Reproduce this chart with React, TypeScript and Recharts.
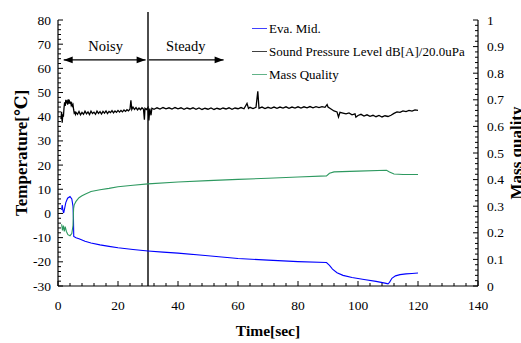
import React from 'react';
import { ComposedChart, Line, XAxis, YAxis, ReferenceLine, ReferenceDot, Legend } from 'recharts';

const FONT = '"Liberation Serif", "Times New Roman", "DejaVu Serif", serif';

// ---- Series names (legend order)
const seriesNames = ['Eva. Mid.', 'Sound Pressure Level dB[A]/20.0uPa', 'Mass Quality'];

// ---- Eva. Mid. temperature (left axis, °C)
const evaTime = [1.2, 1.4, 1.7, 1.9, 2.2, 2.6, 3.2, 4.0, 4.6, 5.0, 5.15, 5.25, 6.0, 7, 9, 11, 14, 17, 20, 25, 30, 35, 40, 50, 60, 70, 80, 89.5, 90.5, 91.5, 93, 95, 98, 102, 106, 109, 110, 110.5, 111.3, 112.5, 114, 116, 118, 120];
const evaTemp = [1.5, 3.5, 1.0, 0.2, 2.0, 4.5, 6.3, 7.0, 6.0, 3.0, -2.0, -9.5, -10.0, -10.5, -11.5, -12.2, -13.0, -13.6, -14.2, -14.9, -15.5, -16.0, -16.4, -17.5, -18.6, -19.3, -19.9, -20.3, -21.5, -23.0, -24.5, -25.6, -26.5, -27.3, -28.1, -28.8, -29.1, -28.5, -26.8, -25.8, -25.3, -25.0, -24.8, -24.6];

// ---- Sound Pressure Level (left axis, dB)
const splTime = [
  1.0, 1.2, 1.4, 1.6, 1.8, 2.0, 2.2, 2.4, 2.6, 2.8, 3.0, 3.2, 3.4, 3.6, 3.8, 4.0, 4.2, 4.4, 4.6, 4.8, 5.0, 5.2, 5.4, 5.6, 5.8, 6.0,
  6.5, 7, 7.5, 8, 8.5, 9, 9.5, 10, 10.5, 11, 11.5, 12, 12.5, 13, 13.5, 14, 14.5, 15, 15.5, 16, 16.5, 17, 17.5, 18, 18.5, 19, 19.5, 20,
  20.5, 21, 21.5, 22, 22.5, 23, 23.5, 24, 24.3, 24.6, 25, 25.5, 26, 26.5, 27, 27.5, 28, 28.5, 28.8, 29, 29.5, 30, 30.3, 30.6, 31, 31.3,
  32, 33, 34, 35, 36, 37, 38, 39, 40, 41, 42, 43, 44, 45, 46, 47, 48, 49, 50, 51, 52, 53, 54, 55, 56, 57, 58, 59, 60, 61, 62, 63, 63.5,
  64, 65, 66, 66.6, 67, 68, 69, 70, 71, 72, 73, 74, 75, 76, 77, 78, 79, 80, 81, 82, 83, 84, 85, 86, 87, 88, 89, 89.7, 90, 91, 92, 93,
  93.5, 94, 95, 96, 97, 98, 99, 99.3, 100, 101, 102, 103, 104, 105, 106, 107, 108, 109, 110, 111, 112, 113, 114, 115, 116, 117, 118, 119, 120
];
const splLevel = [
  39.0, 42.0, 37.5, 41.0, 40.0, 43.5, 46.0, 44.5, 47.0, 45.5, 46.8, 45.0, 47.2, 46.0, 46.5, 45.3, 46.2, 44.8, 45.5, 44.5, 45.0, 43.0, 41.5, 41.8, 41.0, 41.8,
  41.0, 42.2, 40.8, 41.8, 41.0, 42.3, 41.2, 42.0, 40.9, 42.3, 41.3, 41.9, 41.0, 42.3, 41.4, 42.1, 41.1, 42.2, 41.5, 42.4, 41.3, 42.2, 41.7, 42.5, 41.6, 42.4, 41.8, 42.6,
  41.9, 42.6, 42.0, 42.8, 42.2, 42.9, 42.4, 43.2, 46.8, 43.0, 44.0, 43.0, 43.8, 42.8, 43.6, 42.9, 43.7, 43.1, 38.8, 43.5, 43.0, 43.8, 38.5, 43.4, 40.6, 43.5,
  43.1, 43.7, 43.2, 43.8, 43.3, 43.7, 43.2, 43.8, 43.3, 43.7, 43.1, 43.6, 43.2, 43.7, 43.1, 43.6, 43.0, 43.5, 43.1, 43.6, 43.0, 43.5, 43.1, 43.6, 43.2, 43.7, 43.1, 43.6, 43.3, 43.8, 43.3, 45.5, 43.4,
  43.9, 43.4, 43.9, 50.5, 43.5, 44.0, 43.4, 43.9, 43.5, 44.0, 43.5, 44.0, 43.6, 44.1, 43.5, 44.0, 43.6, 44.1, 43.6, 44.1, 43.7, 44.2, 43.7, 44.2, 43.8, 44.2, 43.9, 45.0, 44.0, 43.2, 42.4, 42.0,
  39.9, 41.8, 41.5, 41.2, 41.6, 40.8, 41.2, 39.8, 40.5, 41.0, 40.3, 40.8, 40.2, 40.6, 40.0, 40.5, 39.9, 40.4, 40.1, 40.6, 41.4, 42.0, 41.8, 42.4, 42.1, 42.6, 42.3, 42.8, 42.6
];

// ---- Mass Quality (right axis, 0..1)
const mqTime = [1.2, 1.5, 1.8, 2.1, 2.4, 2.8, 3.3, 4.0, 4.6, 5.0, 5.2, 5.4, 6, 7, 8, 9, 11, 14, 17, 20, 25, 30, 40, 50, 60, 70, 80, 89.5, 90.5, 92, 100, 109.5, 110.5, 112, 115, 120];
const mqValue = [0.232, 0.209, 0.227, 0.205, 0.223, 0.205, 0.193, 0.189, 0.197, 0.227, 0.291, 0.305, 0.318, 0.332, 0.339, 0.345, 0.355, 0.362, 0.367, 0.373, 0.379, 0.384, 0.391, 0.396, 0.401, 0.405, 0.410, 0.414, 0.424, 0.429, 0.432, 0.435, 0.429, 0.421, 0.419, 0.419];

// ---- Axis ticks
const timeMajorTicks = [0, 20, 40, 60, 80, 100, 120, 140];
const tempMajorTicks = [-30, -20, -10, 0, 10, 20, 30, 40, 50, 60, 70, 80];
const qualityMajorTicks = [0, 0.1, 0.2, 0.3, 0.4, 0.5, 0.6, 0.7, 0.8, 0.9, 1];
const qualityTickLabels = ['0', '0.1', '0.2', '0.3', '0.4', '0.5', '0.6', '0.7', '0.8', '0.9', '1'];
const SUB = 5;

// ---- Annotations
const phaseBoundary = 30;
const arrowLevel = 63.5;
const noisyRange = [1.9, 29.2];
const steadyRange = [30.3, 55.2];
const labelLevel = 67.2;
const noisyLabelAt = 15.9;
const steadyLabelAt = 42.6;

const withMinor = (majors: number[], parts: number) => {
  const out: number[] = [];
  for (let i = 0; i < majors.length; i++) {
    out.push(majors[i]);
    if (i < majors.length - 1) {
      for (let k = 1; k < parts; k++) out.push(majors[i] + ((majors[i + 1] - majors[i]) * k) / parts);
    }
  }
  return out;
};

const evaData = evaTime.map((t, i) => ({ t, v: evaTemp[i] }));
const splData = splTime.map((t, i) => ({ t, v: splLevel[i] }));
const mqData = mqTime.map((t, i) => ({ t, v: mqValue[i] }));

const TICK_FONT = 13.5;

const XTick = (props: any) => {
  const { x, y, index } = props;
  const major = index % SUB === 0;
  return (
    <g>
      <line x1={x} x2={x} y1={y} y2={y - (major ? 5 : 3)} stroke="#000" strokeWidth={1} />
      {major && (
        <text x={x} y={y + 24} textAnchor="middle" fontFamily={FONT} fontSize={TICK_FONT} fill="#000">
          {timeMajorTicks[index / SUB]}
        </text>
      )}
    </g>
  );
};

const LeftTick = (props: any) => {
  const { x, y, index } = props;
  const major = index % SUB === 0;
  return (
    <g>
      <line x1={x} x2={x + (major ? 5 : 3)} y1={y} y2={y} stroke="#000" strokeWidth={1} />
      {major && (
        <text x={x - 7} y={y} dy="0.34em" textAnchor="end" fontFamily={FONT} fontSize={TICK_FONT} fill="#000">
          {tempMajorTicks[index / SUB]}
        </text>
      )}
    </g>
  );
};

const RightTick = (props: any) => {
  const { x, y, index } = props;
  const major = index % SUB === 0;
  return (
    <g>
      <line x1={x} x2={x - (major ? 5 : 3)} y1={y} y2={y} stroke="#000" strokeWidth={1} />
      {major && (
        <text x={x + 9} y={y} dy="0.34em" textAnchor="start" fontFamily={FONT} fontSize={TICK_FONT} fill="#000">
          {qualityTickLabels[index / SUB]}
        </text>
      )}
    </g>
  );
};

const arrowShape = (leftHead: boolean, rightHead: boolean) => (p: any) => {
  const xa = Math.min(p.x1, p.x2);
  const xb = Math.max(p.x1, p.x2);
  const y = p.y1;
  const L = 9;
  const W = 3.3;
  return (
    <g>
      <line x1={xa} x2={xb} y1={y} y2={y} stroke="#000" strokeWidth={1.3} />
      {leftHead && <polygon points={`${xa},${y} ${xa + L},${y - W} ${xa + L},${y + W}`} fill="#000" />}
      {rightHead && <polygon points={`${xb},${y} ${xb - L},${y - W} ${xb - L},${y + W}`} fill="#000" />}
    </g>
  );
};

const textShape = (label: string) => (p: any) => (
  <text x={p.cx} y={p.cy} textAnchor="middle" fontFamily={FONT} fontSize={14.5} fill="#000">
    {label}
  </text>
);

const LegendContent = (props: any) => {
  const items = [...(props.payload || [])].sort(
    (a: any, b: any) => seriesNames.indexOf(a.value) - seriesNames.indexOf(b.value)
  );
  return (
    <div style={{ fontFamily: FONT, fontSize: 13, color: '#000' }}>
      {items.map((item: any, i: number) => (
        <div key={i} style={{ display: 'flex', alignItems: 'center', height: 23, whiteSpace: 'nowrap' }}>
          <svg width={15} height={3} style={{ display: 'block' }}>
            <line x1={0} x2={15} y1={1.5} y2={1.5} stroke={item.color} strokeWidth={1} strokeOpacity={0.75} />
          </svg>
          <span style={{ marginLeft: 2 }}>{item.value}</span>
        </div>
      ))}
    </div>
  );
};

export default function App() {
  return (
    <div style={{ position: 'absolute', left: 0, top: 0, width: 521, height: 343, background: '#fff' }}>
      <ComposedChart width={521} height={343} margin={{ top: 20, right: 0, bottom: 0, left: 0 }}>
        <XAxis
          dataKey="t"
          type="number"
          domain={[0, 140]}
          height={57}
          ticks={withMinor(timeMajorTicks, SUB)}
          interval={0}
          tickSize={0}
          tickMargin={0}
          tickLine={false}
          tick={<XTick />}
          axisLine={{ stroke: '#000', strokeWidth: 1.2 }}
          allowDataOverflow
          label={{
            content: (p: any) => (
              <text
                x={p.viewBox.x + p.viewBox.width / 2}
                y={p.viewBox.y + 50}
                textAnchor="middle"
                fontFamily={FONT}
                fontSize={15.5}
                fontWeight="bold"
                fill="#000"
              >
                Time[sec]
              </text>
            ),
          }}
        />
        <YAxis
          yAxisId="left"
          orientation="left"
          type="number"
          width={58}
          domain={[-30, 80]}
          ticks={withMinor(tempMajorTicks, SUB)}
          interval={0}
          tickSize={0}
          tickMargin={0}
          tickLine={false}
          tick={<LeftTick />}
          axisLine={{ stroke: '#000', strokeWidth: 1.2 }}
          allowDataOverflow
          label={{
            content: (p: any) => {
              const cy = p.viewBox.y + p.viewBox.height / 2;
              return (
                <text
                  x={27}
                  y={cy}
                  transform={`rotate(-90 27 ${cy})`}
                  textAnchor="middle"
                  fontFamily={FONT}
                  fontSize={17}
                  fontWeight="bold"
                  fill="#000"
                >
                  Temperature[℃]
                </text>
              );
            },
          }}
        />
        <YAxis
          yAxisId="right"
          orientation="right"
          type="number"
          width={43}
          domain={[0, 1]}
          ticks={withMinor(qualityMajorTicks, SUB)}
          interval={0}
          tickSize={0}
          tickMargin={0}
          tickLine={false}
          tick={<RightTick />}
          axisLine={{ stroke: '#000', strokeWidth: 1.2 }}
          allowDataOverflow
          label={{
            content: (p: any) => {
              const cy = p.viewBox.y + p.viewBox.height / 2;
              const lx = p.viewBox.x + 44;
              return (
                <text
                  x={lx}
                  y={cy}
                  transform={`rotate(-90 ${lx} ${cy})`}
                  textAnchor="middle"
                  fontFamily={FONT}
                  fontSize={17}
                  fontWeight="bold"
                  fill="#000"
                >
                  Mass quality
                </text>
              );
            },
          }}
        />
        <Legend
          layout="vertical"
          align="center"
          verticalAlign="middle"
          content={<LegendContent />}
          wrapperStyle={{ position: 'absolute', left: 252, top: 17, width: 'auto' }}
        />
        <ReferenceLine
          yAxisId="left"
          x={phaseBoundary}
          stroke="#000"
          shape={(p: any) => (
            <line
              x1={p.x1}
              x2={p.x2}
              y1={Math.min(p.y1, p.y2) - 8}
              y2={Math.max(p.y1, p.y2)}
              stroke="#000"
              strokeWidth={1.4}
            />
          )}
        />
        <ReferenceLine
          yAxisId="left"
          segment={[{ x: noisyRange[0], y: arrowLevel }, { x: noisyRange[1], y: arrowLevel }]}
          stroke="#000"
          shape={arrowShape(true, true)}
        />
        <ReferenceLine
          yAxisId="left"
          segment={[{ x: steadyRange[0], y: arrowLevel }, { x: steadyRange[1], y: arrowLevel }]}
          stroke="#000"
          shape={arrowShape(false, true)}
        />
        <ReferenceDot yAxisId="left" x={noisyLabelAt} y={labelLevel} r={0} shape={textShape('Noisy')} />
        <ReferenceDot yAxisId="left" x={steadyLabelAt} y={labelLevel} r={0} shape={textShape('Steady')} />
        <Line
          name={seriesNames[0]}
          data={evaData}
          dataKey="v"
          yAxisId="left"
          type="linear"
          stroke="#0000ff"
          strokeWidth={1.1}
          dot={false}
          activeDot={false}
          isAnimationActive={false}
        />
        <Line
          name={seriesNames[1]}
          data={splData}
          dataKey="v"
          yAxisId="left"
          type="linear"
          stroke="#000000"
          strokeWidth={1.3}
          dot={false}
          activeDot={false}
          isAnimationActive={false}
        />
        <Line
          name={seriesNames[2]}
          data={mqData}
          dataKey="v"
          yAxisId="right"
          type="linear"
          stroke="#2e9960"
          strokeWidth={1.1}
          dot={false}
          activeDot={false}
          isAnimationActive={false}
        />
      </ComposedChart>
    </div>
  );
}
